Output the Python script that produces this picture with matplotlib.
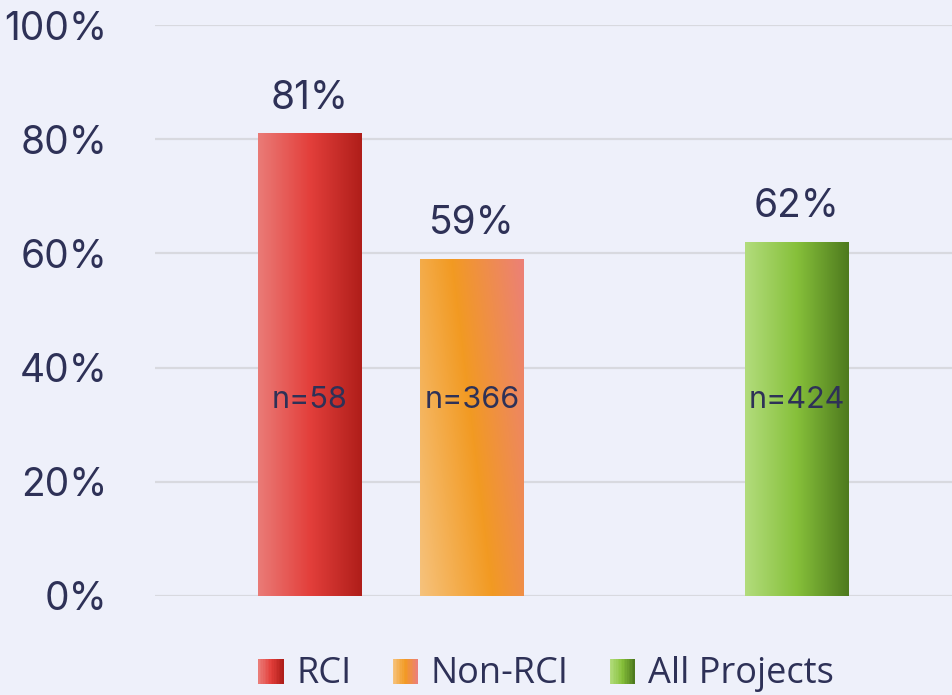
import matplotlib
matplotlib.use('Agg')
import matplotlib.pyplot as plt
import numpy as np
from matplotlib.colors import LinearSegmentedColormap
from matplotlib.legend_handler import HandlerBase
from matplotlib.patches import Rectangle

CATEGORIES = ['RCI', 'Non-RCI', 'All Projects']
POSITIONS = [0, 1, 3]
VALUES = [81, 59, 62]
N_LABELS = ['n=58', 'n=366', 'n=424']
YTICKS = [0, 20, 40, 60, 80, 100]

BG = '#EEF0FA'
TXT = '#2E3157'
GRADS = [
    ['#EA7B77', '#E33F3B', '#AF1E1A'],
    ['#F6C27C', '#F29A22', '#EC8077'],
    ['#B2DC7C', '#86C03A', '#4E7A1E'],
]

fig = plt.figure(figsize=(9.53, 6.95), dpi=100, facecolor=BG)
ax = fig.add_axes([155/953, 1 - 596/695, 1 - 155/953, (596 - 25)/695])
ax.set_facecolor(BG)

width = 0.635
bars = ax.bar(POSITIONS, VALUES, width=width, color='none', zorder=3)

for i, (bar, cols) in enumerate(zip(bars, GRADS)):
    cmap = LinearSegmentedColormap.from_list(f'g{i}', cols)
    x0, w, h = bar.get_x(), bar.get_width(), bar.get_height()
    if i == 1:
        # diagonal gradient: bottom-left light -> top-right pink
        xx, yy = np.meshgrid(np.linspace(0, 1, 100), np.linspace(0, 1, 100))
        grad = 0.75 * xx + 0.25 * yy * h / 100 * 2
        grad = grad / grad.max()
    else:
        grad = np.tile(np.linspace(0, 1, 200), (2, 1))
    im = ax.imshow(grad, cmap=cmap, extent=[x0, x0 + w, 0, h], origin='lower',
                   aspect='auto', zorder=3, interpolation='bilinear')
    im.set_clip_path(bar)

ax.set_xlim(-0.95, 3.96)
ax.set_ylim(0, 100)
ax.set_yticks(YTICKS)
ax.set_yticklabels([f'{t}%' for t in YTICKS], fontsize=28, color=TXT, family='Inter')
ax.set_xticks([])
ax.tick_params(axis='y', length=0, pad=34)
ax.yaxis.grid(True, color='#D8D9DF', lw=1.6, zorder=0)
ax.set_axisbelow(True)
for s in ax.spines.values():
    s.set_visible(False)

for p, v, n in zip(POSITIONS, VALUES, N_LABELS):
    ax.annotate(f'{v}%', (p, v), xytext=(0, 12), textcoords='offset points',
                ha='center', va='bottom', fontsize=28, color=TXT, family='Inter')
    ax.text(p, 34.3, n, ha='center', va='center', fontsize=22, color=TXT,
            family='Inter', zorder=5)


class GradHandler(HandlerBase):
    def __init__(self, cols):
        super().__init__()
        self.cols = cols

    def create_artists(self, legend, orig_handle, xdescent, ydescent, width,
                       height, fontsize, trans):
        cmap = LinearSegmentedColormap.from_list('lg', self.cols)
        side = width
        x0 = xdescent
        y0 = -ydescent + (height - side) / 2 - 1
        out = []
        k = 16
        for j in range(k):
            r = Rectangle((x0 + side * j / k, y0), side / k + 0.3, side,
                          facecolor=cmap(j / (k - 1)), edgecolor='none',
                          transform=trans)
            out.append(r)
        return out


handles = [Rectangle((0, 0), 1, 1) for _ in CATEGORIES]
hmap = {h: GradHandler(c) for h, c in zip(handles, GRADS)}
fig.legend(handles, CATEGORIES, handler_map=hmap, loc='center',
           bbox_to_anchor=(546/953, 1 - 674/695), ncol=3, frameon=False,
           prop={'family': 'Open Sans', 'size': 26}, labelcolor=TXT,
           handlelength=0.7, handletextpad=0.36, columnspacing=1.13)

plt.savefig('out.png', dpi=100, facecolor=BG)
plt.close()
